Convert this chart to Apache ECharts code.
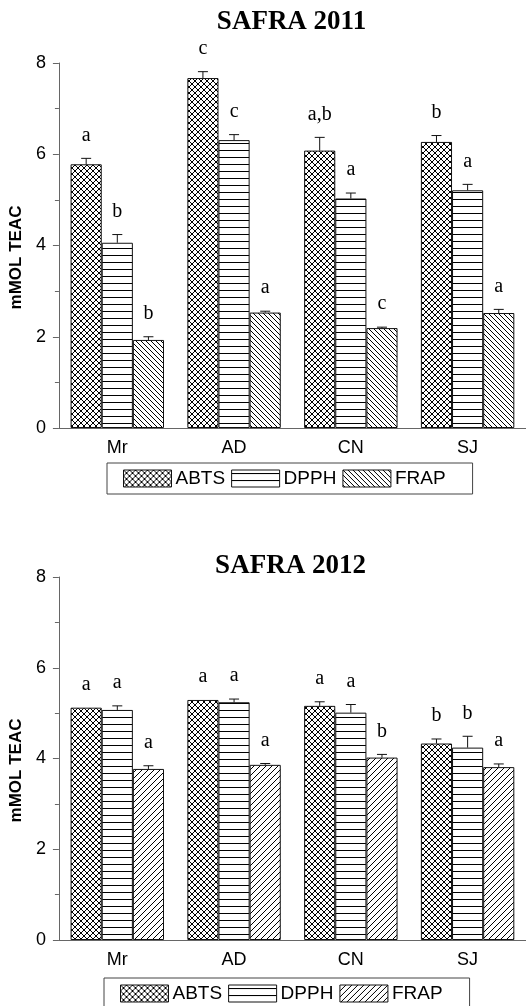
<!DOCTYPE html>
<html>
<head>
<meta charset="utf-8">
<script src="https://cdn.jsdelivr.net/npm/echarts@6/dist/echarts.min.js"></script>
<style>
  html, body { margin: 0; padding: 0; background: #fff; }
  #chart { width: 526px; height: 1006px; }
</style>
</head>
<body>
<div id="chart"></div>
<script>
// Antioxidant capacity (mmol TEAC) by site and assay, two harvests
const categories = ['Mr', 'AD', 'CN', 'SJ'];
const methods = ['ABTS', 'DPPH', 'FRAP'];
const yTicks = [0, 2, 4, 6, 8];

const abts2011 = [5.78, 7.67, 6.08, 6.27];
const dpph2011 = [4.06, 6.31, 5.03, 5.21];
const frap2011 = [1.93, 2.53, 2.19, 2.52];
const abtsErr2011 = [0.13, 0.14, 0.29, 0.14];
const dpphErr2011 = [0.18, 0.12, 0.12, 0.13];
const frapErr2011 = [0.07, 0.03, 0.02, 0.08];
const abtsLetters2011 = ['a', 'c', 'a,b', 'b'];
const dpphLetters2011 = ['b', 'c', 'a', 'a'];
const frapLetters2011 = ['b', 'a', 'c', 'a'];

const abts2012 = [5.12, 5.29, 5.16, 4.33];
const dpph2012 = [5.07, 5.24, 5.01, 4.24];
const frap2012 = [3.77, 3.86, 4.02, 3.81];
const abtsErr2012 = [0, 0, 0.09, 0.10];
const dpphErr2012 = [0.09, 0.07, 0.18, 0.25];
const frapErr2012 = [0.07, 0.03, 0.07, 0.07];
const abtsLetters2012 = ['a', 'a', 'a', 'b'];
const dpphLetters2012 = ['a', 'a', 'a', 'b'];
const frapLetters2012 = ['a', 'a', 'b', 'a'];

// --- hatch fills -------------------------------------------------------
function tile(w, h, draw) {
  const c = document.createElement('canvas');
  c.width = w; c.height = h;
  const ctx = c.getContext('2d');
  ctx.fillStyle = '#fff';
  ctx.fillRect(0, 0, w, h);
  ctx.strokeStyle = '#000';
  ctx.fillStyle = '#000';
  ctx.lineWidth = 1;
  draw(ctx, w, h);
  return { image: c, repeat: 'repeat' };
}
const crossFill = tile(6, 6, (ctx, s) => {
  ctx.beginPath();
  ctx.moveTo(-1, -1); ctx.lineTo(s + 1, s + 1);
  ctx.moveTo(s + 1, -1); ctx.lineTo(-1, s + 1);
  ctx.stroke();
});
const horizFill = tile(4, 7, (ctx, w) => { ctx.fillRect(0, 3, w, 1); });
const backFill = tile(5, 5, (ctx, s) => {
  ctx.beginPath();
  ctx.moveTo(-1, -1); ctx.lineTo(s + 1, s + 1);
  ctx.stroke();
});
const fwdFill = tile(6, 6, (ctx, s) => {
  ctx.beginPath();
  ctx.moveTo(-1, s + 1); ctx.lineTo(s + 1, -1);
  ctx.stroke();
});

const SANS = '"Liberation Sans", Arial, Helvetica, sans-serif';
const SERIF = '"Liberation Serif", "Times New Roman", serif';

const grids = [
  { left: 57, right: 0, top: 63, height: 365 },
  { left: 55, right: 0, top: 577, height: 363 }
];

const years = [
  {
    title: 'SAFRA 2011', titleY: 22,
    values: [abts2011, dpph2011, frap2011],
    errs: [abtsErr2011, dpphErr2011, frapErr2011],
    letters: [abtsLetters2011, dpphLetters2011, frapLetters2011],
    fills: [crossFill, horizFill, backFill],
    legendTop: 463, legendLeft: 107
  },
  {
    title: 'SAFRA 2012', titleY: 566,
    values: [abts2012, dpph2012, frap2012],
    errs: [abtsErr2012, dpphErr2012, frapErr2012],
    letters: [abtsLetters2012, dpphLetters2012, frapLetters2012],
    fills: [crossFill, horizFill, fwdFill],
    legendTop: 978, legendLeft: 104
  }
];

const xAxis = [], yAxis = [], series = [], legend = [], graphic = [];

years.forEach((yr, g) => {
  // labelled axis with ticks at category centres
  xAxis.push({
    type: 'category', gridIndex: g, data: categories, position: 'bottom',
    axisLine: { lineStyle: { color: '#666', width: 1 } },
    axisTick: { alignWithLabel: true, length: 5, lineStyle: { color: '#666' } },
    axisLabel: { color: '#000', fontSize: 18, fontFamily: SANS, margin: 11 }
  });
  // companion axis carrying the short ticks between categories
  xAxis.push({
    type: 'category', gridIndex: g, data: categories, position: 'bottom',
    axisLine: { show: false },
    axisTick: { length: 3, lineStyle: { color: '#666' } },
    axisLabel: { show: false }
  });
  yAxis.push({
    type: 'value', gridIndex: g,
    min: yTicks[0], max: yTicks[yTicks.length - 1], interval: yTicks[1] - yTicks[0],
    name: 'mMOL TEAC', nameLocation: 'middle', nameGap: 30,
    nameTextStyle: { color: '#000', fontSize: 17, fontWeight: 'bold', fontFamily: SANS, padding: [0, 24, 0, 0] },
    axisLine: { show: true, lineStyle: { color: '#666', width: 1 } },
    axisTick: { show: true, length: 6, lineStyle: { color: '#666' } },
    minorTick: { show: true, splitNumber: 2, length: 4, lineStyle: { color: '#666' } },
    splitLine: { show: false },
    axisLabel: { color: '#000', fontSize: 18, fontFamily: SANS, margin: 13 }
  });

  methods.forEach((m, k) => {
    series.push({
      type: 'bar', name: m,
      xAxisIndex: g * 2, yAxisIndex: g,
      data: yr.values[k],
      barGap: '0%', barCategoryGap: '20%',
      itemStyle: { color: yr.fills[k], borderColor: '#111', borderWidth: 1 },
      emphasis: { disabled: true },
      animation: false
    });
  });

  // error bars and significance letters
  const errData = [];
  const letterList = [];
  methods.forEach((m, k) => {
    categories.forEach((c, i) => {
      errData.push([i, yr.values[k][i], yr.errs[k][i], k]);
      letterList.push(yr.letters[k][i]);
    });
  });
  series.push({
    type: 'custom', xAxisIndex: g * 2, yAxisIndex: g,
    data: errData, z: 5, clip: false, silent: true, animation: false,
    renderItem: (params, api) => {
      const cat = api.value(0), val = api.value(1), err = api.value(2), k = api.value(3);
      const base = api.coord([cat, val]);
      const band = api.size([1, 0])[0];
      const bw = band * 0.8 / 3;
      const x = base[0] + (k - 1) * bw;
      const top = api.coord([cat, val + err])[1];
      const children = [];
      if (err > 0) {
        children.push({
          type: 'line', shape: { x1: x, y1: base[1], x2: x, y2: top },
          style: { stroke: '#111', lineWidth: 1 }
        });
        children.push({
          type: 'line', shape: { x1: x - 5, y1: top, x2: x + 5, y2: top },
          style: { stroke: '#111', lineWidth: 1 }
        });
      }
      children.push({
        type: 'text',
        style: {
          text: letterList[params.dataIndex], x: x, y: top - 23,
          align: 'center', verticalAlign: 'middle',
          font: '20px ' + SERIF, fill: '#000'
        }
      });
      return { type: 'group', children: children };
    }
  });

  legend.push({
    left: yr.legendLeft, top: yr.legendTop,
    orient: 'horizontal',
    data: methods.map((m, k) => ({ name: m, icon: 'rect', itemStyle: { color: yr.fills[k], borderColor: '#111', borderWidth: 1 } })),
    itemWidth: 48, itemHeight: 17, itemGap: 6,
    padding: [6, 27, 6, 16],
    borderColor: '#444', borderWidth: 1,
    selectedMode: false,
    textStyle: { color: '#000', fontSize: 19, fontFamily: SANS, padding: [0, 0, 0, -1] }
  });

  graphic.push({
    type: 'text',
    style: {
      text: yr.title, x: (grids[g].left + 526) / 2, y: yr.titleY,
      align: 'center', verticalAlign: 'middle',
      font: 'bold 27px ' + SERIF, fill: '#000'
    }
  });
});

const chart = echarts.init(document.getElementById('chart'), null, { renderer: 'canvas' });
chart.setOption({
  backgroundColor: '#fff',
  animation: false,
  grid: grids,
  xAxis: xAxis,
  yAxis: yAxis,
  legend: legend,
  series: series,
  graphic: graphic
});
</script>
</body>
</html>
